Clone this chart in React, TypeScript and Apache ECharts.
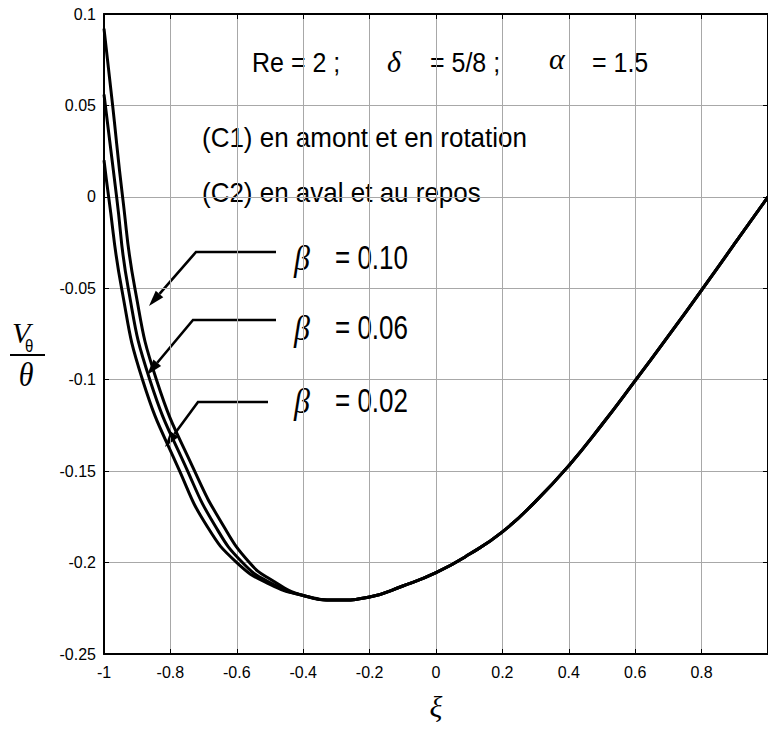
import React, { useEffect, useRef } from "react";
import * as echarts from "echarts";

// Axis ranges and tick steps
const xTicks = { min: -1, max: 1, step: 0.2 };
const yTicks = { min: -0.25, max: 0.1, step: 0.05 };

// Left branches [ξ, Vθ/θ], one per β value
const branchBeta010 = [
  [-1, 0.092], [-0.974, 0.05], [-0.944, 0], [-0.907, -0.05],
  [-0.842, -0.1], [-0.727, -0.15], [-0.64, -0.18], [-0.562, -0.2], [-0.5, -0.209],
];
const branchBeta006 = [
  [-1, 0.056], [-0.962, 0], [-0.927, -0.05],
  [-0.862, -0.1], [-0.748, -0.15], [-0.665, -0.18], [-0.583, -0.2], [-0.5, -0.211],
];
const branchBeta002 = [
  [-1, 0.02], [-0.986, 0], [-0.947, -0.05],
  [-0.884, -0.1], [-0.772, -0.15], [-0.69, -0.18], [-0.6, -0.2], [-0.5, -0.212],
];
// Common right branch shared by all β values
const mergedBranch = [
  [-0.4, -0.218], [-0.3, -0.2205], [-0.2, -0.2188], [-0.1, -0.2128], [0, -0.2055],
  [0.1, -0.1955], [0.2, -0.1832], [0.3, -0.1665], [0.4, -0.147], [0.5, -0.1245],
  [0.6, -0.1005], [0.7, -0.076], [0.8, -0.051], [0.9, -0.0255], [1, 0],
];

const betaLabels = ["0.10", "0.06", "0.02"];
const betaBranches = [branchBeta010, branchBeta006, branchBeta002];

const SANS = "'Liberation Sans', Arial, sans-serif";
const SERIF = "'Liberation Serif', 'Times New Roman', serif";

function arrow(points: number[][]) {
  const n = points.length;
  const [tx, ty] = points[n - 1];
  const [px, py] = points[n - 2];
  const len = Math.hypot(tx - px, ty - py);
  const ux = (tx - px) / len;
  const uy = (ty - py) / len;
  const headL = 16;
  const headW = 5;
  const bx = tx - ux * headL;
  const by = ty - uy * headL;
  const shaft = points.slice(0, n - 1).concat([[bx, by]]);
  return [
    {
      type: "polyline",
      shape: { points: shaft },
      style: { stroke: "#000", lineWidth: 2.6, fill: null },
    },
    {
      type: "polygon",
      shape: {
        points: [
          [tx, ty],
          [bx - uy * headW, by + ux * headW],
          [bx + uy * headW, by - ux * headW],
        ],
      },
      style: { fill: "#000" },
    },
  ];
}

function txt(text: string, x: number, y: number, font: string, scaleY = 1, align = "left") {
  return {
    type: "text",
    x,
    y,
    scaleY,
    style: { text, font, fill: "#000", textAlign: align, textVerticalAlign: "middle" },
  };
}

export default function App() {
  const ref = useRef<HTMLDivElement>(null);

  useEffect(() => {
    if (!ref.current) return;
    const chart = echarts.init(ref.current, null, { renderer: "svg" });

    const frame = { show: true, onZero: false, lineStyle: { color: "#000", width: 2 } };
    const ticks = { show: true, inside: true, length: 5, lineStyle: { color: "#000", width: 1 } };
    const tickFont = { fontFamily: SANS, fontSize: 16, color: "#000" };

    const series = betaBranches.map((b, i) => ({
      name: "β = " + betaLabels[i],
      type: "line",
      data: b.concat(mergedBranch),
      showSymbol: false,
      smooth: 0.5,
      lineStyle: { color: "#000", width: 3 },
      silent: true,
    }));

    const arrows = [
      [[276, 252], [196, 252], [149, 306]],
      [[276, 320], [193, 320], [147, 375]],
      [[268, 402], [198, 402], [165, 447]],
    ];
    const betaY = [257, 327, 400];

    const graphics: any[] = [
      txt("Re = 2 ;", 252, 63, `25px ${SANS}`, 1.1),
      txt("δ", 387, 61, `italic 30px ${SERIF}`),
      txt("= 5/8 ;", 430, 63, `25px ${SANS}`, 1.1),
      txt("α", 549, 58, `italic 30px ${SERIF}`),
      txt("= 1.5", 592, 63, `25px ${SANS}`, 1.1),
      txt("(C1) en amont et en rotation", 202, 138, `26px ${SANS}`, 1.05),
      txt("(C2) en aval et au repos", 202, 193, `26px ${SANS}`, 1.05),
      // ordinate label Vθ / θ
      txt("V", 12, 332, `italic 30px ${SERIF}`),
      txt("θ", 25, 346, `15px ${SANS}`, 1.2),
      { type: "line", shape: { x1: 10, y1: 355, x2: 45, y2: 355 }, style: { stroke: "#000", lineWidth: 2 } },
      txt("θ", 26, 375, `italic 30px ${SERIF}`, 1.1, "center"),
    ];
    arrows.forEach((a, i) => {
      graphics.push(...arrow(a));
      graphics.push(txt("β", 294, betaY[i] + 1, `italic 32px ${SERIF}`, 1.1));
      graphics.push(txt("= " + betaLabels[i], 335, betaY[i], `26px ${SANS}`, 1.28));
    });

    const gridLine = { show: true, lineStyle: { color: "#a8a8a8", width: 1, type: "solid" } };

    chart.setOption({
      animation: false,
      backgroundColor: "#fff",
      grid: { left: 104, top: 14, width: 666, height: 640, containLabel: false },
      xAxis: [
        {
          type: "value",
          position: "bottom",
          min: xTicks.min,
          max: xTicks.max,
          interval: xTicks.step,
          axisLine: frame,
          axisTick: ticks,
          splitLine: gridLine,
          axisLabel: { ...tickFont, margin: 10, showMaxLabel: false },
          name: "ξ",
          nameLocation: "middle",
          nameGap: 52,
          nameTextStyle: { fontFamily: SERIF, fontStyle: "italic", fontSize: 30, color: "#000", verticalAlign: "middle" },
        },
        {
          type: "value",
          position: "top",
          min: xTicks.min,
          max: xTicks.max,
          interval: xTicks.step,
          axisLine: frame,
          axisTick: ticks,
          splitLine: { show: false },
          axisLabel: { show: false },
        },
      ],
      yAxis: [
        {
          type: "value",
          position: "left",
          min: yTicks.min,
          max: yTicks.max,
          interval: yTicks.step,
          axisLine: frame,
          axisTick: ticks,
          splitLine: gridLine,
          axisLabel: { ...tickFont, margin: 8 },
        },
        {
          type: "value",
          position: "right",
          min: yTicks.min,
          max: yTicks.max,
          interval: yTicks.step,
          axisLine: frame,
          axisTick: ticks,
          splitLine: { show: false },
          axisLabel: { show: false },
        },
      ],
      series,
      graphic: graphics,
    });

    return () => chart.dispose();
  }, []);

  return (
    <div
      ref={ref}
      style={{ position: "absolute", left: 0, top: 0, width: 768, height: 731, background: "#fff" }}
    />
  );
}
